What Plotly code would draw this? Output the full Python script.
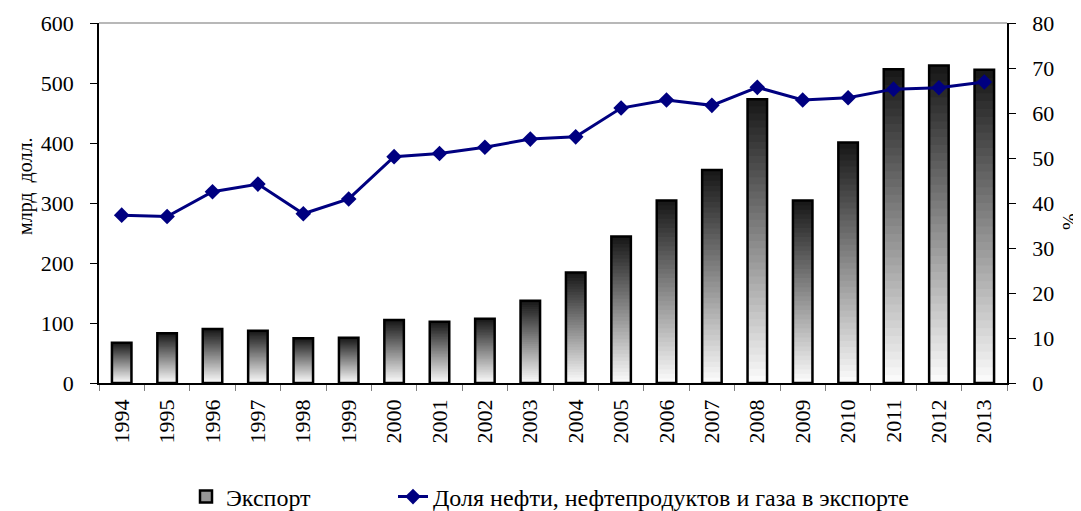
import plotly.graph_objects as go

years = [str(y) for y in range(1994, 2014)]
export_bln = [67, 83, 90, 87, 74.5, 75.5, 105, 102, 107, 137, 184, 244, 304, 355, 473, 304, 401, 523, 529, 522]
oil_gas_share = [37.3, 37.0, 42.5, 44.2, 37.6, 40.9, 50.3, 51.0, 52.4, 54.2, 54.7, 61.1, 62.9, 61.7, 65.7, 62.9, 63.4, 65.3, 65.6, 66.9]

FONT = "Liberation Serif"
TICK_FS = 22
LEG_FS = 24
TITLE_FS = 20
N = 40
BAR_W = 0.43

fig = go.Figure()

# gradient bars: dark on top, light at bottom (overlay of shrinking bars)
for k in range(N):
    t = k / (N - 1)
    c = int(25 + (250 - 25) * t)
    fig.add_trace(go.Bar(
        x=years, y=[v * (N - k) / N for v in export_bln],
        width=BAR_W, marker=dict(color=f"rgb({c},{c},{c})", line=dict(width=0)),
        showlegend=False, hoverinfo="skip", yaxis="y"))

# outline
fig.add_trace(go.Bar(
    x=years, y=export_bln, width=BAR_W, name="Экспорт",
    marker=dict(color="rgba(0,0,0,0)", line=dict(color="black", width=2.5)),
    showlegend=False, yaxis="y"))

# legend entry for bars
fig.add_trace(go.Bar(
    x=[years[0]], y=[None], width=BAR_W, name="Экспорт",
    marker=dict(color="rgb(150,150,150)", line=dict(color="black", width=2.5)),
    showlegend=True, yaxis="y", legend="legend"))

fig.add_trace(go.Scatter(
    x=years, y=oil_gas_share, yaxis="y2", mode="lines+markers",
    name="Доля нефти, нефтепродуктов и газа в экспорте",
    line=dict(color="#000080", width=3),
    marker=dict(symbol="diamond", size=12, color="#000080"),
    legend="legend2"))

leg_common = dict(orientation="h", xref="container", yref="container",
                  y=1 - 489 / 511, yanchor="middle", xanchor="left",
                  font=dict(size=LEG_FS), bgcolor="rgba(0,0,0,0)")

fig.update_layout(
    width=1081, height=511,
    margin=dict(l=91, r=82, t=15, b=136),
    paper_bgcolor="white", plot_bgcolor="white",
    barmode="overlay",
    font=dict(family=FONT, size=TICK_FS, color="black"),
    xaxis=dict(type="category", range=[-0.5, 19.5], tickangle=-90, automargin=False,
               tickson="boundaries", ticks="outside", ticklen=6, tickcolor="#808080",
               showline=True, linecolor="black", linewidth=1.5, showgrid=False,
               tickfont=dict(size=TICK_FS), ticklabelstandoff=6),
    yaxis=dict(range=[0, 600], dtick=100, ticks="outside", ticklen=7, tickcolor="black",
               showline=True, linecolor="black", linewidth=1.5, showgrid=False, zeroline=False,
               automargin=False, ticklabelstandoff=12, tickfont=dict(size=TICK_FS)),
    yaxis2=dict(range=[0, 80], dtick=10, overlaying="y", side="right", automargin=False,
                ticks="outside", ticklen=7, tickcolor="black",
                showline=True, linecolor="black", linewidth=1.5, showgrid=False, zeroline=False,
                ticklabelstandoff=12, tickfont=dict(size=TICK_FS)),
    legend=dict(**leg_common, x=178 / 1081),
    legend2=dict(**leg_common, x=385 / 1081),
    shapes=[dict(type="line", xref="paper", yref="paper", x0=0, x1=1, y0=1, y1=1,
                 line=dict(color="#a0a0a0", width=1.5))],
    annotations=[
        dict(text="млрд\u00a0\u00a0долл.", textangle=-90, xref="paper", yref="paper",
             x=(25 - 99) / 908, y=(383 - 187) / 360, showarrow=False,
             xanchor="center", yanchor="middle", font=dict(size=TITLE_FS)),
        dict(text="%", textangle=-90, xref="paper", yref="paper",
             x=(1070 - 99) / 908, y=(383 - 222) / 360, showarrow=False,
             xanchor="center", yanchor="middle", font=dict(size=TITLE_FS)),
    ],
)

fig.write_html("out.html")
